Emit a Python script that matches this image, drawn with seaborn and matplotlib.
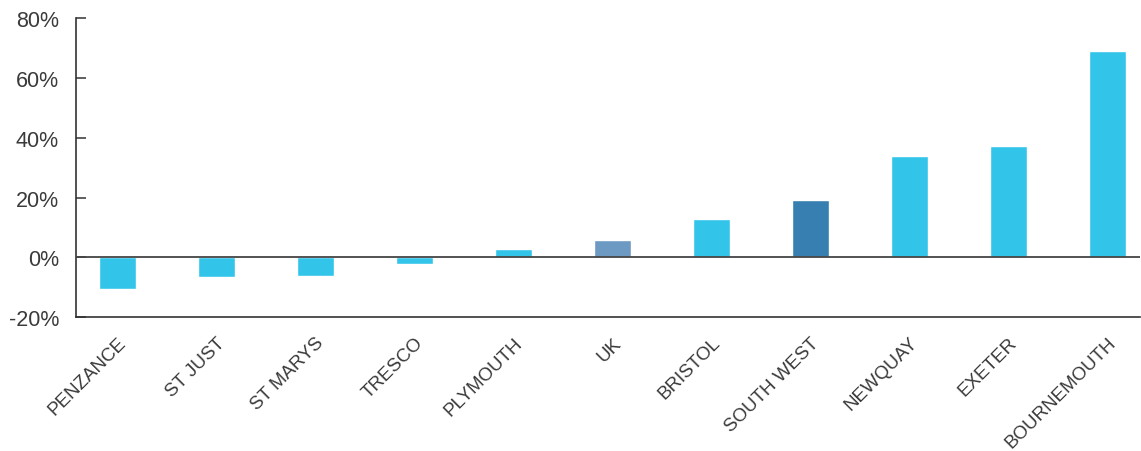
import matplotlib
matplotlib.use("Agg")
import matplotlib.pyplot as plt
import seaborn as sns
import pandas as pd
from matplotlib.ticker import FuncFormatter

places = ["PENZANCE", "ST JUST", "ST MARYS", "TRESCO", "PLYMOUTH", "UK",
          "BRISTOL", "SOUTH WEST", "NEWQUAY", "EXETER", "BOURNEMOUTH"]
change_pct = [-10.5, -6.5, -6.2, -2.1, 2.8, 5.8, 12.8, 19.1, 33.8, 37.1, 68.8]
bar_colors = ["#33C4EA", "#33C4EA", "#33C4EA", "#33C4EA", "#33C4EA", "#6C9AC3",
              "#33C4EA", "#367FB0", "#33C4EA", "#33C4EA", "#33C4EA"]

df = pd.DataFrame({"place": places, "change": change_pct})

sns.set_style("white")
plt.rcParams["font.family"] = ["Liberation Sans", "DejaVu Sans"]

fig = plt.figure(figsize=(11.41, 4.52), dpi=100)
ax = fig.add_axes([0.0663, 0.296, 0.933, 0.662])

sns.barplot(data=df, x="place", y="change", hue="place",
            palette=dict(zip(places, bar_colors)), legend=False,
            width=0.374, saturation=1, ax=ax)

ax.axhline(0, color="#444444", lw=1.3, zorder=3)
ax.set_ylim(-20, 80)
ax.set_xlim(-0.42, 10.33)
ax.set_yticks(range(-20, 81, 20))
ax.yaxis.set_major_formatter(FuncFormatter(lambda v, p: f"{int(v)}%"))
ax.set_xlabel("")
ax.set_ylabel("")

for side in ["top", "right"]:
    ax.spines[side].set_visible(False)
for side in ["left", "bottom"]:
    ax.spines[side].set_color("#333333")
    ax.spines[side].set_linewidth(1.2)

ax.tick_params(axis="y", direction="in", length=7, width=1.1, color="#333333",
               labelsize=15.5, labelcolor="#3a3a3a", pad=12, left=True)
ax.tick_params(axis="x", length=0, labelsize=13.5, labelcolor="#3a3a3a", pad=12)
for lbl in ax.get_xticklabels():
    lbl.set_rotation(45)
    lbl.set_ha("right")
    lbl.set_rotation_mode("anchor")

fig.savefig("out.png", dpi=100)
